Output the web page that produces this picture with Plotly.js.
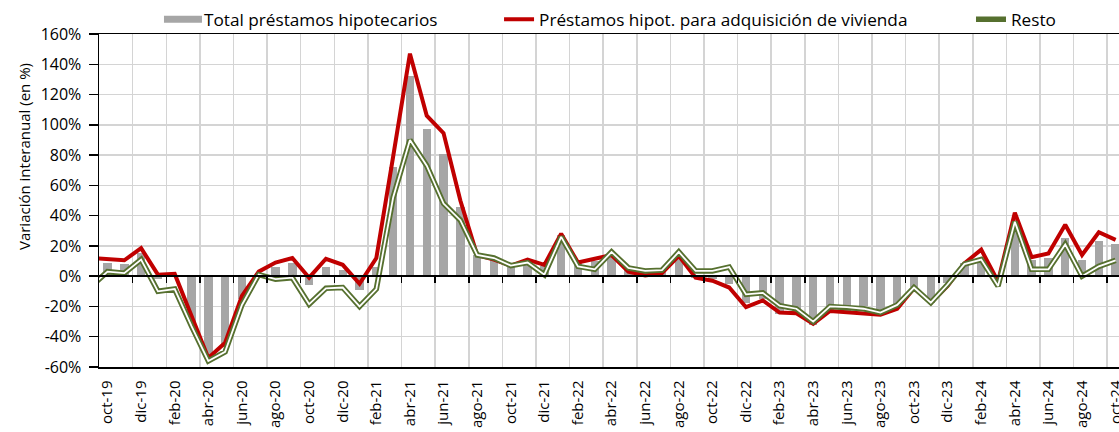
<!DOCTYPE html>
<html>
<head>
<meta charset="utf-8">
<script src="https://cdn.plot.ly/plotly-3.0.1.min.js"></script>
<style>html,body{margin:0;padding:0;background:#fff;overflow:hidden}</style>
</head>
<body>
<div id="chart" style="width:1119px;height:432px"></div>
<script>
// Months (sep-19 only feeds the line segment clipped at the left edge)
const months = ['sep-19','oct-19','nov-19','dic-19','ene-20','feb-20','mar-20','abr-20','may-20','jun-20','jul-20','ago-20','sep-20','oct-20','nov-20','dic-20',
  'ene-21','feb-21','mar-21','abr-21','may-21','jun-21','jul-21','ago-21','sep-21','oct-21','nov-21','dic-21',
  'ene-22','feb-22','mar-22','abr-22','may-22','jun-22','jul-22','ago-22','sep-22','oct-22','nov-22','dic-22',
  'ene-23','feb-23','mar-23','abr-23','may-23','jun-23','jul-23','ago-23','sep-23','oct-23','nov-23','dic-23',
  'ene-24','feb-24','mar-24','abr-24','may-24','jun-24','jul-24','ago-24','sep-24','oct-24'];

const tickLabels = ['oct-19','dic-19','feb-20','abr-20','jun-20','ago-20','oct-20','dic-20','feb-21','abr-21','jun-21','ago-21',
  'oct-21','dic-21','feb-22','abr-22','jun-22','ago-22','oct-22','dic-22','feb-23','abr-23','jun-23','ago-23','oct-23','dic-23',
  'feb-24','abr-24','jun-24','ago-24','oct-24'];

const yTickValues = [-60, -40, -20, 0, 20, 40, 60, 80, 100, 120, 140, 160];

const totalHipotecarios = [9,
  9, 8, 15, -2, 1, -30, -52, -47, -15, 2, 6, 8.5, -6, 6, 4,
  -9, 6, 72, 132, 97, 81, 46, 14, 11, 7.5, 11, 7,
  27, 11, 10, 15, 6, 3, 3, 12, -1, -2, -5, -18,
  -15, -25, -25, -32, -24, -25, -20, -24, -20, -7, -17.5, -4.5,
  9, 11.5, -4, 37, 11, 12, 25, 11, 23.5, 21];

const adquisicionVivienda = [12,
  11, 10.5, 18.5, 1, 1.5, -27, -54, -44, -13, 3, 9, 12, -1, 11.5, 7.5,
  -5, 12, 79, 147, 106, 94.5, 50, 14, 11, 7, 11, 7.5,
  28, 9, 11.5, 14, 3, 0.5, 2, 13.5, -1, -3, -7.5, -20.5,
  -16, -24, -24.5, -31.5, -23, -24, -25, -25.5, -21.5, -8, -17.5, -6.5,
  8.5, 17.5, -3.5, 42, 12.5, 15, 34, 14, 29, 24];

const resto = [-7,
  3, 2, 11, -10, -8.5, -33, -56, -50, -19, 1, -2, -1, -18.5, -8, -7.5,
  -20, -8.5, 52, 90, 73, 48, 37, 14, 12, 7, 9, 1,
  26, 6.5, 4.5, 16, 5.5, 3.5, 4, 16, 3.5, 3.5, 6, -12,
  -11, -19.5, -21.5, -30, -20, -20.5, -21.5, -24, -19, -7.5, -17.5, -5.5,
  8, 11, -6.5, 36, 4.5, 4.5, 21, 0, 6.5, 10.5];

const seriesNames = ['Total préstamos hipotecarios', 'Préstamos hipot. para adquisición de vivienda', 'Resto'];
const yTitle = 'Variación interanual (en %)';

const FONT = 'Open Sans, sans-serif';
const xIdx = months.map((m, i) => i);
const tickVals = tickLabels.map(l => months.indexOf(l));
const gridVals = tickVals.slice(1).map(v => v - 0.5);
const yTickText = yTickValues.map(v => v + '%');
const xRange = [0.494, 61.2];
const GREEN = '#56702f';

const traces = [
  {type:'bar', x:xIdx, y:totalHipotecarios, name:seriesNames[0], width:0.5,
   marker:{color:'#a6a6a6'}, legend:'legend', hoverinfo:'skip'},
  {type:'scatter', mode:'lines', x:xIdx, y:adquisicionVivienda, name:seriesNames[1],
   line:{color:'#c00000', width:4}, legend:'legend2', hoverinfo:'skip'},
  {type:'scatter', mode:'lines', x:xIdx, y:resto, name:seriesNames[2], xaxis:'x2',
   line:{color:GREEN, width:5.5}, legend:'legend3', hoverinfo:'skip'},
  {type:'scatter', mode:'lines', x:xIdx, y:resto, name:seriesNames[2], xaxis:'x2',
   line:{color:'#ffffff', width:1.8}, showlegend:false, hoverinfo:'skip'}
];

const legendBase = {orientation:'h', xanchor:'left', yanchor:'middle', y:1.043,
  bgcolor:'rgba(0,0,0,0)', borderwidth:0, font:{family:FONT, size:17.2, color:'#000'}};

const layout = {
  width:1119, height:432,
  margin:{l:99, r:0, t:34, b:65, pad:0},
  paper_bgcolor:'#fff', plot_bgcolor:'#fff',
  font:{family:FONT, color:'#000'},
  showlegend:true,
  bargap:0,
  xaxis:{type:'linear', range:xRange, tickvals:tickVals, ticktext:tickLabels, tickangle:-90,
    ticks:'', showgrid:false, zeroline:false, showline:true, linecolor:'#000', linewidth:1.5, mirror:true,
    tickfont:{family:FONT, size:15, color:'#000'}, automargin:false, fixedrange:true, ticklabelstandoff:6,
    ticklabeloverflow:'allow'},
  xaxis2:{type:'linear', overlaying:'x', anchor:'free', position:60/220, range:xRange, tickvals:gridVals,
    showticklabels:false, ticks:'outside', ticklen:6, tickwidth:1.5, tickcolor:'#000',
    showgrid:true, gridcolor:'#d4d4d4', gridwidth:1.5, showline:true, linecolor:'#000', linewidth:2,
    zeroline:false, layer:'above traces', automargin:false, fixedrange:true},
  yaxis:{range:[-60,160], tickmode:'array', tickvals:yTickValues, ticktext:yTickText,
    showgrid:true, gridcolor:'#d4d4d4', gridwidth:1.5,
    zeroline:false, showline:true, linecolor:'#000', linewidth:1.5, ticks:'outside', ticklen:9, tickwidth:1.5,
    tickcolor:'#000', tickfont:{family:FONT, size:16, color:'#000'}, automargin:false, fixedrange:true,
    ticklabelstandoff:4},
  legend:Object.assign({}, legendBase, {x:0.0637}),
  legend2:Object.assign({}, legendBase, {x:0.3922}),
  legend3:Object.assign({}, legendBase, {x:0.8549}),
  annotations:[{text:yTitle, xref:'paper', yref:'paper', x:-0.0735, y:0.6306, xanchor:'center', yanchor:'middle',
    textangle:-90, showarrow:false, font:{family:FONT, size:15, color:'#000'}}]
};

Plotly.newPlot('chart', traces, layout, {staticPlot:true, displayModeBar:false}).then(() => {
  const ns = 'http://www.w3.org/2000/svg';
  document.querySelectorAll('.infolayer g.traces').forEach(tr => {
    const text = tr.querySelector('text.legendtext');
    if (!text) return;
    const name = text.textContent;
    const tx = parseFloat(text.getAttribute('x')) || 40;
    const layers = tr.querySelector('g.layers');
    if (layers) layers.style.display = 'none';
    const add = (d, stroke, sw, fill) => {
      const p = document.createElementNS(ns, 'path');
      p.setAttribute('d', d);
      p.setAttribute('stroke', stroke);
      p.setAttribute('stroke-width', sw);
      p.setAttribute('fill', fill || 'none');
      tr.insertBefore(p, text);
    };
    const x0 = tx - 41, x1 = tx - 2;
    if (name === seriesNames[0]) {
      add('M' + x0 + ',-3.5H' + x1 + 'V3.5H' + x0 + 'Z', 'none', 0, '#a6a6a6');
    } else if (name === seriesNames[1]) {
      add('M' + x0 + ',0H' + x1, '#c00000', 4);
    } else if (name === seriesNames[2]) {
      add('M' + x0 + ',0H' + x1, GREEN, 7);
      add('M' + (x0 + 1.5) + ',0H' + (x1 - 1.5), '#ffffff', 3);
    }
  });
});
</script>
</body>
</html>
